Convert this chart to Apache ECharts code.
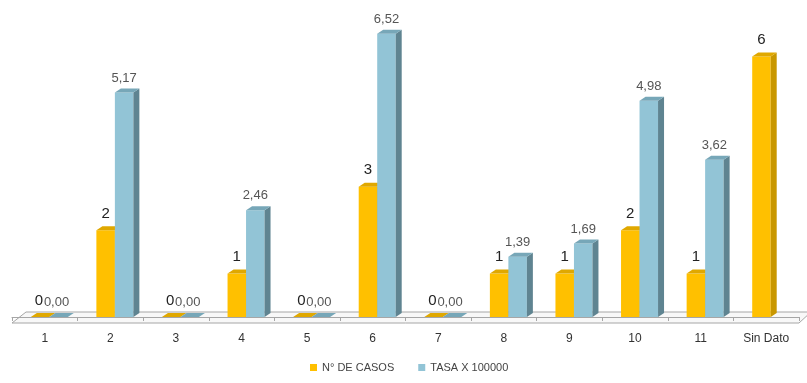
<!DOCTYPE html>
<html>
<head>
<meta charset="utf-8">
<script src="https://cdn.jsdelivr.net/npm/echarts@6/dist/echarts.min.js"></script>
<style>
    html, body { margin: 0; padding: 0; background: #fff; }
    #chart { width: 807px; height: 383px; }
</style>
</head>
<body>
<div id="chart"></div>
<script>
// datos
var categorias = ['1', '2', '3', '4', '5', '6', '7', '8', '9', '10', '11', 'Sin Dato'];
var casos = [0, 2, 0, 1, 0, 3, 0, 1, 1, 2, 1, 6];
var tasa = [0, 5.17, 0, 2.46, 0, 6.52, 0, 1.39, 1.69, 4.98, 3.62, null];

// colores: frente, lado, arriba
var colorCasos = ['#FFC000', '#C99700', '#E0A800'];
var colorTasa = ['#92C4D6', '#5F8491', '#77A7B8'];

var barW = 18.5;
var depthX = 6;
var depthY = 4;
var shift = 4.5;

/**
 * barra 3D: cara frontal, lateral y superior
 * */
function bar3d(slot, colors, fontSize, fontColor, gap, fmt) {
    return function (params, api) {
        var val = api.value(1);
        if (val == null || isNaN(val)) {
            return;
        }
        var base = api.coord([api.value(0), 0]);
        var top = api.coord([api.value(0), val]);
        var x0 = base[0] + shift + (slot == 0 ? -barW : 0);
        var x1 = x0 + barW;
        var y0 = base[1];
        var y1 = top[1];
        var children = [];
        if (y0 - y1 > 0.5) {
            children.push({
                type: 'rect',
                shape: {x: x0, y: y1, width: barW, height: y0 - y1},
                style: {fill: colors[0]}
            });
            children.push({
                type: 'polygon',
                shape: {points: [[x1, y1], [x1 + depthX, y1 - depthY], [x1 + depthX, y0 - depthY], [x1, y0]]},
                style: {fill: colors[1]}
            });
        }
        children.push({
            type: 'polygon',
            shape: {points: [[x0, y1], [x1, y1], [x1 + depthX, y1 - depthY], [x0 + depthX, y1 - depthY]]},
            style: {fill: colors[2]}
        });
        children.push({
            type: 'text',
            style: {
                x: (x0 + x1) / 2 + (val == 0 ? (slot == 0 ? -1 : -2) : 0),
                y: y1 - gap,
                text: fmt(val),
                fill: fontColor,
                font: fontSize + 'px "Liberation Sans", Arial, sans-serif',
                align: 'center',
                verticalAlign: 'bottom'
            }
        });
        return {type: 'group', children: children};
    };
}

var chart = echarts.init(document.getElementById('chart'));

var option = {
    animation: false,
    backgroundColor: '#ffffff',
    grid: {left: 12, right: 8, top: 13, bottom: 66},
    legend: {
        left: 305,
        bottom: 5,
        itemWidth: 7,
        itemHeight: 7,
        itemGap: 24,
        icon: 'rect',
        textStyle: {fontSize: 11, color: '#444', fontFamily: '"Liberation Sans", Arial, sans-serif'},
        data: ['N° DE CASOS', 'TASA X 100000']
    },
    xAxis: {
        type: 'category',
        data: categorias,
        offset: 6,
        axisLine: {show: true, lineStyle: {color: '#a6a6a6'}},
        axisTick: {show: true, length: 4, lineStyle: {color: '#a6a6a6'}},
        axisLabel: {fontSize: 12, color: '#333', margin: 10, fontFamily: '"Liberation Sans", Arial, sans-serif'}
    },
    yAxis: {
        type: 'value',
        min: 0,
        max: 7,
        show: false,
        splitLine: {show: false}
    },
    graphic: [],
    series: [
        {
            name: 'N° DE CASOS',
            type: 'custom',
            itemStyle: {color: colorCasos[0]},
            renderItem: bar3d(0, colorCasos, 15, '#222', 9, function (v) { return String(v); }),
            encode: {x: 0, y: 1},
            data: casos.map(function (v, i) { return [i, v]; }),
            z: 3
        },
        {
            name: 'TASA X 100000',
            type: 'custom',
            itemStyle: {color: colorTasa[0]},
            renderItem: bar3d(1, colorTasa, 13, '#555', 8, function (v) { return v.toFixed(2).replace('.', ','); }),
            encode: {x: 0, y: 1},
            data: tasa.map(function (v, i) { return [i, v]; }),
            z: 3
        }
    ]
};
chart.setOption(option);

// piso en perspectiva
var pL = chart.convertToPixel({xAxisIndex: 0}, 0);
var pR = chart.convertToPixel({xAxisIndex: 0}, categorias.length - 1);
var half = (pR - pL) / (categorias.length - 1) / 2;
var yFront = chart.convertToPixel({yAxisIndex: 0}, 0) + 6;
var left = pL - half, right = pR + half;
chart.setOption({
    graphic: [{
        type: 'polygon',
        z: 0,
        silent: true,
        shape: {points: [[left, yFront], [right, yFront], [right + 12, yFront - 11], [left + 14, yFront - 11]]},
        style: {fill: '#f8f8f8', stroke: '#a6a6a6', lineWidth: 1}
    }]
});
</script>
</body>
</html>
